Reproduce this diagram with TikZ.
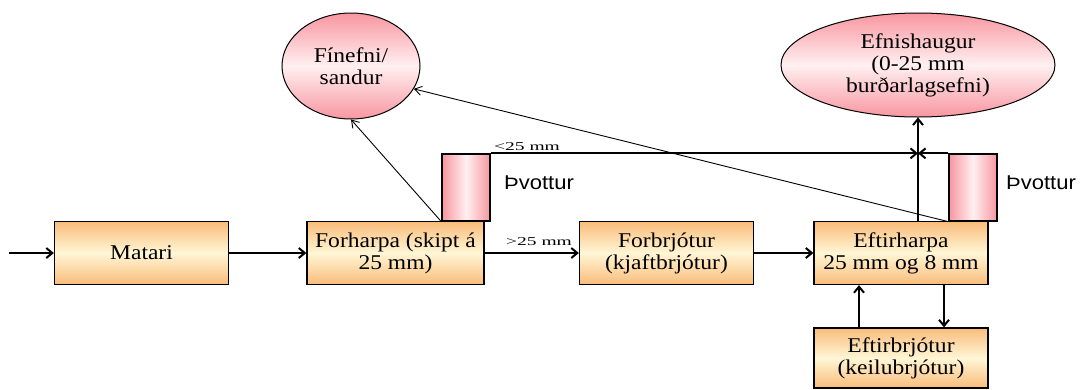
\documentclass[tikz,border=0pt]{standalone}
\usepackage{fontspec}
\usepackage{graphicx}
\setmainfont{Liberation Serif}[FakeStretch=1.12]
\newfontfamily\washfont{Liberation Sans}[FakeStretch=1.1]
\usetikzlibrary{shapes.geometric,arrows.meta}
\definecolor{boxor}{RGB}{249,188,122}
\definecolor{boxlt}{RGB}{255,246,214}
\definecolor{pinkc}{RGB}{248,150,160}
\definecolor{pinklt}{RGB}{255,240,241}
\tikzset{
  bigtext/.style={font=\fontsize{21}{22}\selectfont},
  proc/.style={draw=black, line width=1.3pt, top color=boxor, bottom color=boxor,
    middle color=boxlt, minimum width=174pt, minimum height=63pt, inner sep=0pt,
    align=center, bigtext},
  washer/.style={draw=black, line width=1.3pt, left color=pinkc, right color=pinkc,
    middle color=pinklt, minimum width=48pt, minimum height=67pt, inner sep=0pt},
  store/.style={ellipse, draw=black, line width=1pt, top color=pinkc, bottom color=pinkc,
    middle color=pinklt, inner sep=0pt, align=center, bigtext},
  lbl/.style={inner sep=0pt, font=\washfont\fontsize{20}{22}\selectfont},
  smalllbl/.style={inner sep=0pt, font=\fontsize{12}{13}\selectfont},
  flow/.style={line width=2pt, -{Straight Barb[length=6pt,width=10pt]}},
  thinflow/.style={line width=0.9pt, -{Straight Barb[length=7pt,width=9pt]}}
}
\begin{document}
\begin{tikzpicture}[x=1pt,y=-1pt]
\useasboundingbox (0,0) rectangle (1085,389);
% process boxes
\node[proc] (matari) at (141.5,253) {Matari};
\node[proc, minimum width=177pt] (forharpa) at (395.5,253) {Forharpa (skipt á\\25 mm)};
\node[proc] (forbr) at (666.5,253) {Forbrjótur\\(kjaftbrjótur)};
\node[proc] (eftirh) at (901,253) {Eftirharpa\\25 mm og 8 mm};
\node[proc, minimum height=60pt] (eftirb) at (901,358) {Eftirbrjótur\\(keilubrjótur)};
% washers
\node[washer] (lcyl) at (466,187.5) {};
\node[washer] (rcyl) at (973,187.5) {};
\node[lbl] (tv1) at (539,183) {Þvottur};
\node[lbl] (tv2) at (1041,183) {Þvottur};
% stockpiles
\node[store, minimum width=138pt, minimum height=106pt] (fine) at (351,66) {Fínefni/\\sandur};
\node[store, minimum width=274pt, minimum height=104pt] (efni) at (918,65) {Efnishaugur\\(0-25 mm\\burðarlagsefni)};
% labels
\node[smalllbl] (lt25) at (527,147) {\scalebox{1.45}[1]{<25 mm}};
\node[smalllbl] (gt25) at (539,242) {\scalebox{1.45}[1]{>25 mm}};
% connectors
\coordinate (in) at (9,253);
\draw[flow] (in) -- (matari.west);
\draw[flow] (matari.east) -- (forharpa.west);
\draw[flow] (forharpa.east) -- (forbr.west);
\draw[flow] (forbr.east) -- (eftirh.west);
\coordinate (j) at (efni.south |- lcyl.north);
\draw[flow] (efni.south |- eftirh.north) -- (efni.south);
\draw[flow] (lcyl.north east) -- (j);
\draw[flow] (rcyl.north west) -- (j);
\draw[thinflow] (lcyl.south west) -- (fine.south);
\draw[thinflow] (rcyl.south west) -- (fine.-20);
\draw[flow] ([xshift=-42pt]eftirb.north) -- ([xshift=-42pt]eftirh.south);
\draw[flow] ([xshift=43pt]eftirh.south) -- ([xshift=43pt]eftirb.north);
\end{tikzpicture}
\end{document}
